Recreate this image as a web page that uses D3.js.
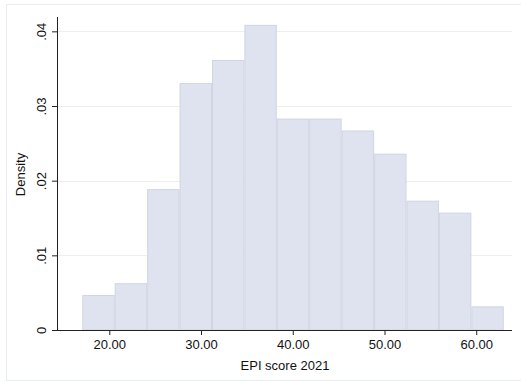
<!DOCTYPE html>
<html>
<head>
<meta charset="utf-8">
<script src="https://cdn.jsdelivr.net/npm/d3@7"></script>
<style>
  html, body { margin: 0; padding: 0; background: #fff; }
  svg { display: block; }
  text { font-family: "Liberation Sans", Arial, Helvetica, sans-serif; fill: #111; }
</style>
</head>
<body>
<script>
// Histogram of EPI score 2021 (density)
const binEdges = [17.06, 20.59, 24.13, 27.66, 31.20, 34.73, 38.26, 41.80, 45.33, 48.87, 52.40, 55.93, 59.47, 63.00];
const densities = [0.00462, 0.00620, 0.01880, 0.03300, 0.03610, 0.04080, 0.02825, 0.02825, 0.02665, 0.02355, 0.01725, 0.01565, 0.00310];
const xTicks = [20, 30, 40, 50, 60];
const xTickLabels = ["20.00", "30.00", "40.00", "50.00", "60.00"];
const yTicks = [0, 0.01, 0.02, 0.03, 0.04];
const yTickLabels = ["0", ".01", ".02", ".03", ".04"];
const xTitle = "EPI score 2021";
const yTitle = "Density";

const W = 521, H = 382;
const svg = d3.select("body").append("svg").attr("width", W).attr("height", H);

// outer frame (right edge lies beyond the picture)
svg.append("rect").attr("x", 6.5).attr("y", 4.5).attr("width", 520).attr("height", 376)
  .attr("fill", "none").attr("stroke", "#e8eeee").attr("stroke-width", 1);

const x = d3.scaleLinear().domain([14.3, 63.9]).range([57, 512]);
const y = d3.scaleLinear().domain([0, 0.04192]).range([330, 17]);

// gridlines
svg.append("g").selectAll("line").data(yTicks.filter(d => d > 0)).join("line")
  .attr("x1", x.range()[0]).attr("x2", x.range()[1])
  .attr("y1", d => Math.round(y(d)) + 0.5).attr("y2", d => Math.round(y(d)) + 0.5)
  .attr("stroke", "#eaf0f0").attr("stroke-width", 1);

// bars
const bins = densities.map((d, i) => ({x0: binEdges[i], x1: binEdges[i + 1], v: d}));
svg.append("g").selectAll("rect").data(bins).join("rect")
  .attr("x", d => x(d.x0) + 0.5)
  .attr("width", d => x(d.x1) - x(d.x0) - 1)
  .attr("y", d => y(d.v))
  .attr("height", d => y(0) - y(d.v))
  .attr("fill", "#dfe3ef")
  .attr("stroke", "#d0d5e3")
  .attr("stroke-width", 1);

// x axis
const xAxis = d3.axisBottom(x).tickValues(xTicks).tickFormat((d, i) => xTickLabels[i])
  .tickSize(5).tickSizeOuter(0).tickPadding(5);
const gx = svg.append("g").attr("transform", "translate(0,330)").call(xAxis);
gx.select(".domain").attr("stroke", "#222").attr("d", `M${x.range()[0]},0.5H${x.range()[1]}`);
gx.selectAll(".tick line").attr("stroke", "#222");
gx.selectAll(".tick text").attr("font-size", 13).attr("fill", "#111")
  .attr("font-family", "Liberation Sans, Arial, sans-serif");

// y axis
const yAxis = d3.axisLeft(y).tickValues(yTicks).tickFormat((d, i) => yTickLabels[i])
  .tickSize(5).tickSizeOuter(0);
const gy = svg.append("g").attr("transform", "translate(57,0)").call(yAxis);
gy.select(".domain").attr("stroke", "#222").attr("d", `M0.5,${y.range()[1]}V${y.range()[0]}`);
gy.selectAll(".tick line").attr("stroke", "#222");
gy.selectAll(".tick text")
  .attr("font-size", 13).attr("fill", "#111")
  .attr("font-family", "Liberation Sans, Arial, sans-serif")
  .attr("x", null).attr("dy", null)
  .attr("text-anchor", "middle")
  .attr("transform", "translate(-11,0) rotate(-90)");

// titles
svg.append("text").attr("x", 285).attr("y", 370).attr("text-anchor", "middle")
  .attr("font-size", 13).text(xTitle);
svg.append("text").attr("transform", `translate(25,${(y.range()[0] + y.range()[1]) / 2 + 1}) rotate(-90)`)
  .attr("text-anchor", "middle").attr("font-size", 13).text(yTitle);
</script>
</body>
</html>
